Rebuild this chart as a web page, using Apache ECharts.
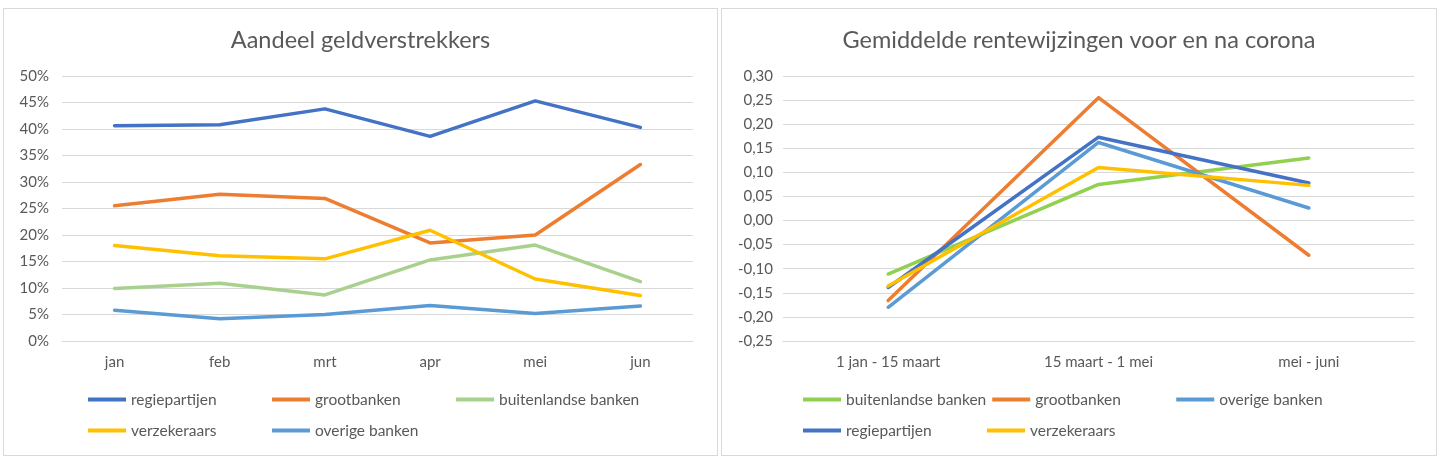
<!DOCTYPE html>
<html>
<head>
<meta charset="utf-8">
<script src="https://cdn.jsdelivr.net/npm/echarts@6/dist/echarts.min.js"></script>
<style>
  html, body { margin: 0; padding: 0; background: #fff; }
  .panel { position: absolute; top: 8px; height: 446px; border: 1px solid #d9d9d9; background: #fff; }
  #left { left: 3px; width: 713px; }
  #right { left: 721px; width: 714px; }
</style>
</head>
<body>
<div id="left" class="panel"></div>
<div id="right" class="panel"></div>
<script>
// left chart: share of lenders per month (%)
var months = ['jan', 'feb', 'mrt', 'apr', 'mei', 'jun'];
var regiepartijen = [40.6, 40.8, 43.8, 38.6, 45.3, 40.3];
var grootbanken = [25.5, 27.7, 26.9, 18.5, 20.0, 33.3];
var buitenlandse = [9.9, 10.9, 8.7, 15.3, 18.1, 11.2];
var verzekeraars = [18.0, 16.1, 15.5, 20.9, 11.7, 8.6];
var overige = [5.8, 4.2, 5.0, 6.7, 5.2, 6.6];

// right chart: average rate changes before / after corona
var periods = ['1 jan - 15 maart', '15 maart - 1 mei', 'mei - juni'];
var rBuitenlandse = [-0.111, 0.075, 0.130];
var rGrootbanken = [-0.166, 0.255, -0.072];
var rOverige = [-0.180, 0.162, 0.026];
var rRegie = [-0.139, 0.173, 0.078];
var rVerzekeraars = [-0.136, 0.110, 0.073];

var font = 'Lato, "Open Sans", sans-serif';
var grey = '#595959';

function lineSeries(name, data, color) {
    return {
        name: name,
        type: 'line',
        data: data,
        symbol: 'none',
        color: color,
        lineStyle: { width: 3.5, color: color, join: 'round', cap: 'round' },
        emphasis: { disabled: true }
    };
}

function baseOption(title, cats, legendLeft, gridLeft, labelMargin) {
    return {
        animation: false,
        textStyle: { fontFamily: font },
        title: {
            text: title,
            left: 'center',
            top: 19,
            padding: 0,
            textStyle: { fontFamily: font, fontSize: 23.5, fontWeight: 'normal', color: grey }
        },
        legend: {
            left: legendLeft,
            top: 378,
            width: 560,
            padding: 0,
            itemGap: 6,
            itemWidth: 38,
            itemHeight: 4,
            icon: 'rect',
            selectedMode: false,
            textStyle: { fontFamily: font, fontSize: 15.5, color: grey, width: 135, lineHeight: 25 }
        },
        grid: { left: gridLeft, width: 631, top: 67, height: 265 },
        xAxis: {
            type: 'category',
            data: cats,
            boundaryGap: true,
            axisTick: { show: false },
            axisLine: { onZero: false, lineStyle: { color: '#d9d9d9', width: 1 } },
            axisLabel: { color: grey, fontSize: 15, fontFamily: font, margin: 14 }
        },
        yAxis: {
            type: 'value',
            axisLine: { show: false },
            axisTick: { show: false },
            splitLine: { lineStyle: { color: '#d9d9d9', width: 1 } },
            axisLabel: { color: grey, fontSize: 15, fontFamily: font, margin: labelMargin }
        }
    };
}

var leftChart = echarts.init(document.getElementById('left'));
var optL = baseOption('Aandeel geldverstrekkers', months, 84, 58, 13);
optL.yAxis.min = 0;
optL.yAxis.max = 50;
optL.yAxis.interval = 5;
optL.yAxis.axisLabel.formatter = function (v) { return v + '%'; };
optL.legend.data = ['regiepartijen', 'grootbanken', 'buitenlandse banken', 'verzekeraars', 'overige banken'];
optL.series = [
    lineSeries('regiepartijen', regiepartijen, '#4472C4'),
    lineSeries('grootbanken', grootbanken, '#ED7D31'),
    lineSeries('buitenlandse banken', buitenlandse, '#A9D18E'),
    lineSeries('verzekeraars', verzekeraars, '#FFC000'),
    lineSeries('overige banken', overige, '#5B9BD5')
];
leftChart.setOption(optL);

var rightChart = echarts.init(document.getElementById('right'));
var optR = baseOption('Gemiddelde rentewijzingen voor en na corona', periods, 81, 61, 10);
optR.yAxis.min = -0.25;
optR.yAxis.max = 0.30;
optR.yAxis.interval = 0.05;
optR.yAxis.axisLabel.formatter = function (v) { return v.toFixed(2).replace('.', ','); };
optR.legend.data = ['buitenlandse banken', 'grootbanken', 'overige banken', 'regiepartijen', 'verzekeraars'];
optR.series = [
    lineSeries('buitenlandse banken', rBuitenlandse, '#92D050'),
    lineSeries('grootbanken', rGrootbanken, '#ED7D31'),
    lineSeries('overige banken', rOverige, '#5B9BD5'),
    lineSeries('regiepartijen', rRegie, '#4472C4'),
    lineSeries('verzekeraars', rVerzekeraars, '#FFC000')
];
rightChart.setOption(optR);
</script>
</body>
</html>
